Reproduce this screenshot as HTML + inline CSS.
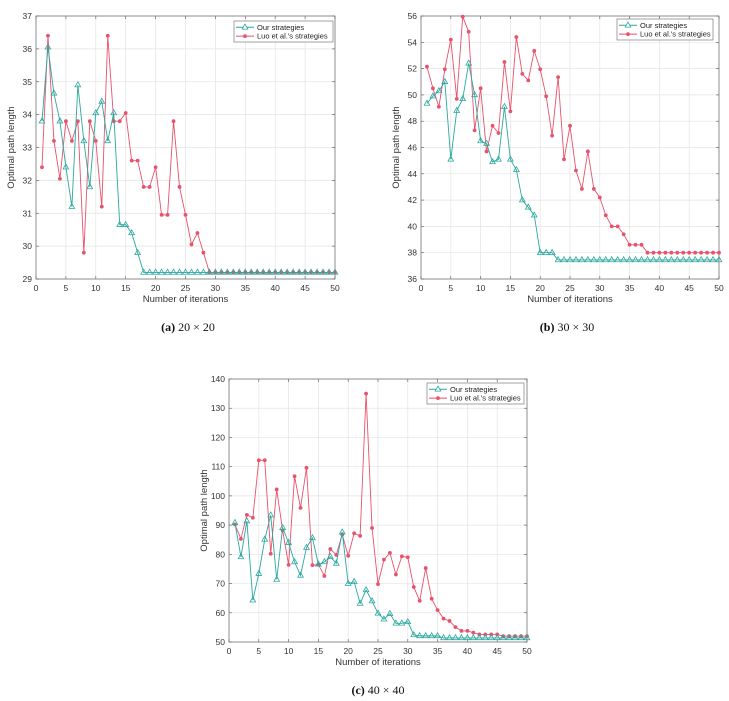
<!DOCTYPE html>
<html><head><meta charset="utf-8">
<style>
html,body{margin:0;padding:0;background:#fff;}
body{width:729px;height:701px;position:relative;overflow:hidden;font-family:"Liberation Sans",sans-serif;}
svg{position:absolute;left:0;top:0;}
.cap{position:absolute;font-family:"Liberation Serif",serif;font-size:12px;color:#111;transform:translateX(-50%);white-space:nowrap;}
</style></head>
<body>
<svg id="main" width="729" height="701"></svg>
<div class="cap" style="left:188px;top:320px"><b>(a)</b> 20 × 20</div>
<div class="cap" style="left:567px;top:320px"><b>(b)</b> 30 × 30</div>
<div class="cap" style="left:378px;top:683px"><b>(c)</b> 40 × 40</div>
<script>
const xTicks = [0,5,10,15,20,25,30,35,40,45,50];
const iterations = Array.from({length:50},(_,i)=>i+1);
const ourA = [33.8,36.05,34.65,33.8,32.4,31.2,34.9,33.2,31.8,34.05,34.4,33.2,34.05,30.65,30.65,30.4,29.8,29.2,29.2,29.2,29.2,29.2,29.2,29.2,29.2,29.2,29.2,29.2,29.2,29.2,29.2,29.2,29.2,29.2,29.2,29.2,29.2,29.2,29.2,29.2,29.2,29.2,29.2,29.2,29.2,29.2,29.2,29.2,29.2,29.2];
const luoA = [32.4,36.4,33.2,32.05,33.8,33.2,33.8,29.8,33.8,33.2,31.2,36.4,33.8,33.8,34.05,32.6,32.6,31.8,31.8,32.4,30.95,30.95,33.8,31.8,30.95,30.05,30.4,29.8,29.2,29.2,29.2,29.2,29.2,29.2,29.2,29.2,29.2,29.2,29.2,29.2,29.2,29.2,29.2,29.2,29.2,29.2,29.2,29.2,29.2,29.2];
const yTicksA = [29,30,31,32,33,34,35,36,37];
const ourB = [49.35,49.9,50.3,51.0,45.1,48.8,49.7,52.4,50.0,46.5,46.3,44.9,45.1,49.1,45.1,44.3,42.0,41.45,40.85,38.0,38.0,38.0,37.45,37.45,37.45,37.45,37.45,37.45,37.45,37.45,37.45,37.45,37.45,37.45,37.45,37.45,37.45,37.45,37.45,37.45,37.45,37.45,37.45,37.45,37.45,37.45,37.45,37.45,37.45,37.45];
const luoB = [52.15,50.5,49.1,51.95,54.2,49.7,55.95,54.8,47.3,50.5,45.7,47.65,47.1,52.5,48.75,54.4,51.6,51.1,53.35,51.95,49.9,46.9,51.35,45.1,47.65,44.25,42.85,45.7,42.85,42.2,40.85,40.0,40.0,39.4,38.6,38.6,38.6,38.0,38.0,38.0,38.0,38.0,38.0,38.0,38.0,38.0,38.0,38.0,38.0,38.0];
const yTicksB = [36,38,40,42,44,46,48,50,52,54,56];
const ourC = [90.8,79.1,91.4,64.3,73.4,85.1,93.4,71.4,89.1,84.0,77.4,72.8,82.3,85.6,76.6,77.4,79.2,76.9,87.6,70.0,70.6,63.2,67.8,64.0,59.8,57.8,59.7,56.4,56.4,56.9,52.4,52.1,52.1,52.1,52.1,51.4,51.4,51.4,51.4,51.4,51.4,51.4,51.4,51.4,51.4,51.4,51.4,51.4,51.4,51.4];
const luoC = [90.2,85.3,93.5,92.5,112.2,112.2,80.2,102.2,88.2,76.4,106.7,95.9,109.6,76.3,76.5,72.6,81.8,79.8,86.8,79.5,87.2,86.3,135,89,69.8,78.2,80.5,73.1,79.3,79.0,68.8,64.1,75.3,64.8,60.9,58.0,57.2,55.1,53.8,53.8,53.2,52.6,52.6,52.6,52.6,52.0,52.0,52.0,52.0,52.0];
const yTicksC = [50,60,70,80,90,100,110,120,130,140];

const NS="http://www.w3.org/2000/svg";
const svg=document.getElementById('main');
const GREEN="#2aa89f", RED="#e8526b";
function mk(tag,attrs,parent){const e=document.createElementNS(NS,tag);for(const k in attrs)e.setAttribute(k,attrs[k]);(parent||svg).appendChild(e);return e;}

function chart(id,L,R,T,B,ymin,ymax,yTicks,our,luo,leg){
  const g=mk('g',{});
  
  
  const sx=v=>L+(v-0)/50*(R-L);
  const sy=v=>B-(v-ymin)/(ymax-ymin)*(B-T);
  mk('rect',{x:L,y:T,width:R-L,height:B-T,fill:'#fff'},g);
  xTicks.forEach(t=>{
    const gl=mk('line',{x1:sx(t),x2:sx(t),y1:T,y2:B,stroke:'#e3e3e3','stroke-width':0.7},g);
    
    
    mk('line',{x1:sx(t),x2:sx(t),y1:B,y2:B-3,stroke:'#555','stroke-width':0.6},g);
    mk('line',{x1:sx(t),x2:sx(t),y1:T,y2:T+3,stroke:'#555','stroke-width':0.6},g);
    const tx=mk('text',{x:sx(t),y:B+12,'text-anchor':'middle','font-size':8.5,fill:'#333'},g);
    tx.textContent=t;
    
    
  });
  yTicks.forEach(t=>{
    const gl=mk('line',{x1:L,x2:R,y1:sy(t),y2:sy(t),stroke:'#e3e3e3','stroke-width':0.7},g);
    
    
    mk('line',{x1:L,x2:L+3,y1:sy(t),y2:sy(t),stroke:'#555','stroke-width':0.6},g);
    mk('line',{x1:R,x2:R-3,y1:sy(t),y2:sy(t),stroke:'#555','stroke-width':0.6},g);
    const tx=mk('text',{x:L-4,y:sy(t)+3,'text-anchor':'end','font-size':8.5,fill:'#333'},g);
    tx.textContent=t;
    
    
  });
  const box=mk('rect',{x:L,y:T,width:R-L,height:B-T,fill:'none',stroke:'#666','stroke-width':0.7},g);
  
  
  const xl=mk('text',{x:(L+R)/2,y:B+23,'text-anchor':'middle','font-size':9.5,fill:'#333'},g);
  xl.textContent='Number of iterations';
  
  
  const yx=L-22, yy=(T+B)/2;
  const yl=mk('text',{x:yx,y:yy,'text-anchor':'middle','font-size':9.5,fill:'#333',transform:`rotate(-90 ${yx} ${yy})`},g);
  yl.textContent='Optimal path length';
  
  
  // series
  const ptsL=luo.map((v,i)=>sx(iterations[i])+','+sy(v)).join(' ');
  const pl=mk('polyline',{points:ptsL,fill:'none',stroke:RED,'stroke-width':0.9},g);
  
  
  luo.forEach((v,i)=>{
    const c=mk('circle',{cx:sx(iterations[i]),cy:sy(v),r:1.9,fill:RED},g);
    
    
  });
  const ptsO=our.map((v,i)=>sx(iterations[i])+','+sy(v)).join(' ');
  const po=mk('polyline',{points:ptsO,fill:'none',stroke:GREEN,'stroke-width':0.9},g);
  
  
  our.forEach((v,i)=>{
    const x=sx(iterations[i]),y=sy(v);
    const m=mk('polygon',{points:`${x},${y-3.2} ${x-2.8},${y+1.8} ${x+2.8},${y+1.8}`,fill:'none',stroke:GREEN,'stroke-width':0.8},g);
    
    
  });
  // legend
  const [lx,ly,lw,lh]=leg;
  const lg=mk('g',{},g);
  
  
  mk('rect',{x:lx,y:ly,width:lw,height:lh,fill:'#fff',stroke:'#666','stroke-width':0.6},lg);
  const r1=ly+lh*0.3, r2=ly+lh*0.72;
  mk('line',{x1:lx+2,x2:lx+20,y1:r1,y2:r1,stroke:GREEN,'stroke-width':1},lg);
  mk('polygon',{points:`${lx+11},${r1-3.2} ${lx+8.2},${r1+1.8} ${lx+13.8},${r1+1.8}`,fill:'#fff',stroke:GREEN,'stroke-width':0.8},lg);
  const t1=mk('text',{x:lx+23,y:r1+2.6,'font-size':7.5,fill:'#222'},lg);
  t1.textContent='Our strategies';
  
  
  mk('line',{x1:lx+2,x2:lx+20,y1:r2,y2:r2,stroke:RED,'stroke-width':1},lg);
  mk('circle',{cx:lx+11,cy:r2,r:1.9,fill:RED},lg);
  const t2=mk('text',{x:lx+23,y:r2+2.6,'font-size':7.5,fill:'#222'},lg);
  t2.textContent="Luo et al.'s strategies";
  
  
}
chart('a',36,335,16,279,29,37,yTicksA,ourA,luoA,[234,21,99,21]);
chart('b',421,719,16,279,36,56,yTicksB,ourB,luoB,[617,19,96,21]);
chart('c',229,527,379,642,50,140,yTicksC,ourC,luoC,[427,383,97,21]);
</script>
</body></html>
